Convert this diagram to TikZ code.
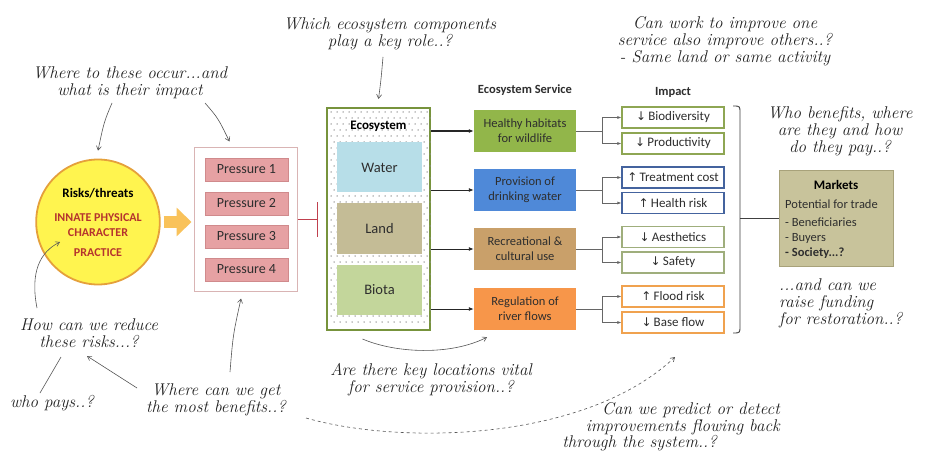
\documentclass[tikz,border=0pt]{standalone}
\usepackage{fontspec}
\setsansfont{Carlito}
\newfontfamily\dvs{DejaVu Sans}
\usetikzlibrary{arrows.meta,shapes.geometric,calc}
\definecolor{ellfill}{HTML}{FFF44F}
\definecolor{ellborder}{HTML}{E5A03B}
\definecolor{elltext}{HTML}{B5332E}
\definecolor{arrowor}{HTML}{F9C25A}
\definecolor{pressfill}{HTML}{E6A1A3}
\definecolor{pressdraw}{HTML}{D08A8C}
\definecolor{pbdraw}{HTML}{D9B4B4}
\definecolor{redline}{HTML}{C0404E}
\definecolor{ecoborder}{HTML}{77933C}
\definecolor{dotcol}{HTML}{8C8C8C}
\definecolor{watercol}{HTML}{B7DEE8}
\definecolor{landcol}{HTML}{C4BC96}
\definecolor{biotacol}{HTML}{C3D69B}
\definecolor{sonecol}{HTML}{92B64A}
\definecolor{stwocol}{HTML}{4F89D8}
\definecolor{sthreecol}{HTML}{C9A06A}
\definecolor{sfourcol}{HTML}{F7964A}
\definecolor{ionecol}{HTML}{8EA653}
\definecolor{itwocol}{HTML}{44639E}
\definecolor{ithreecol}{HTML}{9FAE7C}
\definecolor{ifourcol}{HTML}{F0A24F}
\definecolor{mkfill}{HTML}{C8C39B}
\definecolor{mkdraw}{HTML}{A8A27A}
\definecolor{textdark}{HTML}{2E2E2E}
\definecolor{handcol}{HTML}{222222}
\definecolor{anncol}{HTML}{555555}
\definecolor{conncol}{HTML}{666666}
\begin{document}
\begin{tikzpicture}[x=1pt,y=-1pt,
  press/.style={draw=pressdraw, line width=0.6pt, fill=pressfill, minimum width=83pt, minimum height=23pt, inner sep=0pt, text=textdark, font=\sffamily\fontsize{14}{16}\selectfont},
  comp/.style={minimum width=85pt, minimum height=50pt, inner sep=0pt, text=textdark, font=\sffamily\fontsize{14.5}{16}\selectfont},
  serv/.style={minimum width=102pt, minimum height=42pt, inner sep=0pt, align=center, text=textdark, font=\sffamily\fontsize{12.5}{15}\selectfont},
  imp/.style={draw, line width=1.2pt, fill=white, minimum width=102pt, minimum height=21pt, inner sep=0pt, text=textdark, font=\sffamily\fontsize{13}{15}\selectfont},
  hdr/.style={inner sep=0pt, text=textdark, font=\sffamily\bfseries\fontsize{12.5}{14}\selectfont},
  mktxt/.style={inner sep=0pt, anchor=west, text=textdark, font=\sffamily\fontsize{12.5}{14}\selectfont},
  hand/.style={inner sep=0pt, align=center, text=handcol, font=\rmfamily\itshape\fontsize{17}{17}\selectfont},
  ann/.style={draw=anncol, line width=0.6pt, -{Straight Barb[length=4pt,width=5pt]}},
  annline/.style={draw=anncol, line width=0.6pt},
  ecoarr/.style={draw=black!85, line width=0.9pt, -{Latex[length=5pt,width=4pt]}},
  conn/.style={draw=conncol, line width=0.7pt, -{Latex[length=4pt,width=3pt]}}
]
\fill[white] (0,0) rectangle (925,470);
\useasboundingbox (0,0) rectangle (925,470);

% Risks ellipse
\node[ellipse, draw=ellborder, line width=1.8pt, fill=ellfill, minimum width=112pt, minimum height=125pt, inner sep=0pt, align=center, text=elltext, font=\sffamily\bfseries\fontsize{12}{15}\selectfont] (ell) at (98,222)
  {{\color{black}\fontsize{13}{15}\selectfont Risks/threats}\\[9pt]INNATE PHYSICAL\\CHARACTER\\[5pt]PRACTICE};

% Pressures
\node[draw=pbdraw, line width=1pt, fill=white, minimum width=103pt, minimum height=143pt, inner sep=0pt] (pb) at (245.5,219.5) {};
\node[press] (p1) at (246.5,169.5) {Pressure 1};
\node[press] (p2) at (246.5,203.5) {Pressure 2};
\node[press] (p3) at (246.5,236.5) {Pressure 3};
\node[press] (p4) at (246.5,269.5) {Pressure 4};

\draw[line width=12pt, draw=arrowor, fill=arrowor, -{Triangle[length=15pt,width=28pt]}, shorten <=3pt, shorten >=2pt] (ell.east) -- (ell.east -| pb.west);

% Ecosystem
\node[draw=ecoborder, line width=2pt, fill=white, minimum width=103pt, minimum height=222pt, inner sep=0pt] (eco) at (378.5,219) {};
\foreach \i in {0,...,16} {
  \foreach \j in {0,...,35} {
    \fill[dotcol] ({331+\i*6+mod(\j,2)*3},{112+\j*6}) circle (0.75pt);
  }
}
\node[inner sep=0pt, text=black, font=\sffamily\bfseries\fontsize{13}{15}\selectfont] (ecolab) at (378.5,126) {Ecosystem};
\node[comp, fill=watercol] (water) at (379.5,167.5) {Water};
\node[comp, fill=landcol] (land) at (379.5,228.5) {Land};
\node[comp, fill=biotacol] (biota) at (379.5,289.5) {Biota};

\draw[draw=redline, line width=1.4pt, -{Bar[width=34pt,line width=1.4pt]}, shorten >=8pt] (pb.east) -- (pb.east -| eco.west);

% Services
\node[hdr] (hserv) at (525,90) {Ecosystem Service};
\node[serv, fill=sonecol] (s1) at (525,131) {Healthy habitats\\for wildlife};
\node[serv, fill=stwocol] (s2) at (525,190) {Provision of\\drinking water};
\node[serv, fill=sthreecol] (s3) at (525,249) {Recreational \&\\cultural use};
\node[serv, fill=sfourcol] (s4) at (525,309) {Regulation of\\river flows};

\draw[ecoarr, line width=1.6pt] (s1.west -| eco.east) -- (s1.west);
\draw[ecoarr] (s2.west -| eco.east) -- (s2.west);
\draw[ecoarr] (s3.west -| eco.east) -- (s3.west);
\draw[ecoarr] (s4.west -| eco.east) -- (s4.west);

% Impacts
\node[hdr] (himp) at (673,92) {Impact};
\node[imp, draw=ionecol] (i1) at (673,117.5) {{\dvs\fontsize{12}{14}\selectfont ↓}\,Biodiversity};
\node[imp, draw=ionecol] (i2) at (673,143.5) {{\dvs\fontsize{12}{14}\selectfont ↓}\,Productivity};
\node[imp, draw=itwocol] (i3) at (673,177.5) {{\dvs\fontsize{12}{14}\selectfont ↑}\,Treatment cost};
\node[imp, draw=itwocol] (i4) at (673,203) {{\dvs\fontsize{12}{14}\selectfont ↑}\,Health risk};
\node[imp, draw=ithreecol] (i5) at (673,237) {{\dvs\fontsize{12}{14}\selectfont ↓}\,Aesthetics};
\node[imp, draw=ithreecol] (i6) at (673,262.5) {{\dvs\fontsize{12}{14}\selectfont ↓}\,Safety};
\node[imp, draw=ifourcol] (i7) at (673,296.5) {{\dvs\fontsize{12}{14}\selectfont ↑}\,Flood risk};
\node[imp, draw=ifourcol] (i8) at (673,322.5) {{\dvs\fontsize{12}{14}\selectfont ↓}\,Base flow};

\draw[conn] (s1.east) -- ++(26,0) |- (i1.west);
\draw[conn] (s1.east) -- ++(26,0) |- (i2.west);
\draw[conn] (s2.east) -- ++(26,0) |- (i3.west);
\draw[conn] (s2.east) -- ++(26,0) |- (i4.west);
\draw[conn] (s3.east) -- ++(26,0) |- (i5.west);
\draw[conn] (s3.east) -- ++(26,0) |- (i6.west);
\draw[conn] (s4.east) -- ++(26,0) |- (i7.west);
\draw[conn] (s4.east) -- ++(26,0) |- (i8.west);

% Bracket and markets
\node[draw=mkdraw, line width=1pt, fill=mkfill, minimum width=114pt, minimum height=95pt, inner sep=0pt] (mk) at (836,218.5) {};
\node[inner sep=0pt, text=black, font=\sffamily\bfseries\fontsize{13}{15}\selectfont] (mkt) at (836,185) {Markets};
\node[mktxt] (mk1) at (785,204) {Potential for trade};
\node[mktxt] (mk2) at (785,222) {- Beneficiaries};
\node[mktxt] (mk3) at (785,238) {- Buyers};
\node[mktxt, font=\sffamily\bfseries\fontsize{12.5}{14}\selectfont] (mk4) at (785,253) {- Society...?};

\coordinate (brt) at (733,106);
\coordinate (brb) at (733,333);
\coordinate (brm) at (740,218.5);
\draw[draw=black!75, line width=0.9pt] (brt) .. controls (740,106) .. (740,113) -- (740,326) .. controls (740,333) .. (brb);
\draw[draw=black!75, line width=0.9pt] (brm) -- (mk.west);

% Handwritten annotations
\node[hand] (awhere) at (130,82.5) {Where to these occur...and\\what is their impact};
\node[hand] (awhich) at (390,34) {Which ecosystem components\\play a key role..?};
\node[hand] (acanwork) at (725,41.5) {Can work to improve one\\service also improve others..?\\- Same land or same activity};
\node[hand] (awho) at (840,131.5) {Who benefits, where\\are they and how\\do they pay..?};
\node[hand, anchor=west, align=left] (araise) at (779,303.5) {...and can we\\raise funding\\for restoration..?};
\node[hand] (ahow) at (89,333.5) {How can we reduce\\these risks...?};
\node[hand] (awhopays) at (52,403) {who pays..?};
\node[hand] (awherecan) at (216,400) {Where can we get\\the most benefits..?};
\node[hand] (aarethere) at (431,380) {Are there key locations vital\\for service provision..?};
\node[hand, anchor=east] (apredicta) at (780,410) {Can we predict or detect};
\node[hand, anchor=east] (apredictb) at (780,427) {improvements flowing back};
\node[hand, anchor=east] (apredictc) at (717,443) {through the system..?};

% Annotation arrows
\coordinate (cwa) at (112,103);
\draw[ann] (cwa) .. controls (104,122) .. ([yshift=8pt]ell.north);
\coordinate (cwb) at (205,103);
\draw[ann] (cwb) .. controls (218,118) .. ([xshift=-16pt,yshift=6pt]pb.north);
\coordinate (cwh) at (383,57);
\draw[ann] (cwh) .. controls (381,80) .. ([yshift=8pt]eco.north);
\coordinate (chow) at (37,308);
\draw[ann] (chow) .. controls (30,272) and (40,252) .. ($(ell.center)+(-38,20)$);
\coordinate (cwpa) at (61,357);
\coordinate (cwpb) at (40,393);
\draw[annline] (cwpa) -- (cwpb);
\coordinate (cwca) at (137,388);
\coordinate (cwcb) at (87,356);
\draw[ann] (cwca) .. controls (112,372) .. (cwcb);
\coordinate (cwcc) at (230,372);
\draw[ann] (cwcc) .. controls (233,335) .. ([xshift=-4.5pt,yshift=-7pt]pb.south);
\draw[ann] ([xshift=-16pt,yshift=-8pt]eco.south) .. controls (395,353) and (450,356) .. ([xshift=-38pt,yshift=-7pt]s4.south);
\coordinate (cda) at (306,418);
\coordinate (cdb) at (675,357);
\draw[ann, dashed] (cda) .. controls (400,445) and (585,442) .. (cdb);
\end{tikzpicture}
\end{document}
